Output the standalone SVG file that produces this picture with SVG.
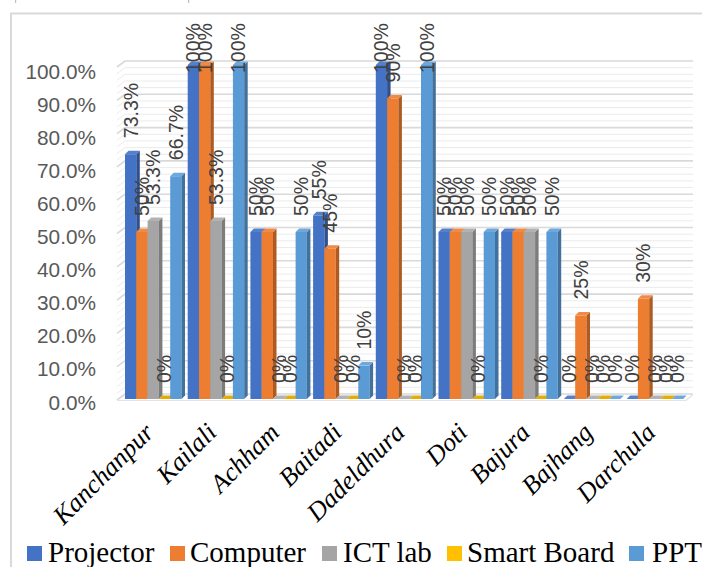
<svg xmlns="http://www.w3.org/2000/svg" width="702" height="567" viewBox="0 0 702 567">
<style>
.ax{font-family:"Liberation Sans",Arial,sans-serif;font-size:20.8px;fill:#595959;text-anchor:end}
.dl{font-family:"Liberation Sans",Arial,sans-serif;font-size:19.5px;fill:#404040}
.cat{font-family:"Liberation Serif","Times New Roman",serif;font-style:italic;font-size:26px;fill:#000;text-anchor:end}
.lg{font-family:"Liberation Serif","Times New Roman",serif;font-size:29px;fill:#000}
.pf{fill:#4472C4}.ps{fill:#2F528F}.pt{fill:#5580CC}
.cf{fill:#ED7D31}.cs{fill:#AE5A21}.ct{fill:#F08A45}
.if{fill:#A5A5A5}.is{fill:#7C7C7C}.it{fill:#B2B2B2}
.sf{fill:#FFC000}.ss{fill:#BC8C00}.st{fill:#E6AC00}
.tf{fill:#5B9BD5}.ts{fill:#41719C}.tt{fill:#6FA8DC}
</style>
<rect x="0" y="0" width="702" height="567" fill="#fff"/>
<rect x="15" y="0" width="1.2" height="3" fill="#BFBFBF"/>
<rect x="188" y="0" width="1.2" height="3" fill="#BFBFBF"/>
<rect x="11" y="13.5" width="720" height="600" fill="none" stroke="#D9D9D9" stroke-width="2"/>
<g id="walls" fill="none">
<path stroke="#EBEBEB" stroke-width="1" d="M117,393.3 l8,-6 H693 M117,386.7 l8,-6 H693 M117,380 l8,-6 H693 M117,373.4 l8,-6 H693 M117,360 l8,-6 H693 M117,353.4 l8,-6 H693 M117,346.7 l8,-6 H693 M117,340.1 l8,-6 H693 M117,326.7 l8,-6 H693 M117,320.1 l8,-6 H693 M117,313.4 l8,-6 H693 M117,306.8 l8,-6 H693 M117,293.4 l8,-6 H693 M117,286.8 l8,-6 H693 M117,280.1 l8,-6 H693 M117,273.5 l8,-6 H693 M117,260.1 l8,-6 H693 M117,253.5 l8,-6 H693 M117,246.8 l8,-6 H693 M117,240.2 l8,-6 H693 M117,226.8 l8,-6 H693 M117,220.2 l8,-6 H693 M117,213.5 l8,-6 H693 M117,206.9 l8,-6 H693 M117,193.5 l8,-6 H693 M117,186.9 l8,-6 H693 M117,180.2 l8,-6 H693 M117,173.6 l8,-6 H693 M117,160.2 l8,-6 H693 M117,153.6 l8,-6 H693 M117,146.9 l8,-6 H693 M117,140.3 l8,-6 H693 M117,126.9 l8,-6 H693 M117,120.3 l8,-6 H693 M117,113.6 l8,-6 H693 M117,107 l8,-6 H693 M117,93.6 l8,-6 H693 M117,87 l8,-6 H693 M117,80.3 l8,-6 H693 M117,73.7 l8,-6 H693"/>
<path stroke="#D9D9D9" stroke-width="1.6" d="M117,400 l8,-6 H693 M117,366.7 l8,-6 H693 M117,333.4 l8,-6 H693 M117,300.1 l8,-6 H693 M117,266.8 l8,-6 H693 M117,233.5 l8,-6 H693 M117,200.2 l8,-6 H693 M117,166.9 l8,-6 H693 M117,133.6 l8,-6 H693 M117,100.3 l8,-6 H693 M117,67 l8,-6 H693"/>
<path stroke="#E3E3E3" stroke-width="1.2" d="M117,400.5 H686 l7,-6"/>
</g>
<g id="axis">
<text class="ax" x="96" y="78.5">100.0%</text>
<text class="ax" x="96" y="111.6">90.0%</text>
<text class="ax" x="96" y="144.7">80.0%</text>
<text class="ax" x="96" y="177.8">70.0%</text>
<text class="ax" x="96" y="210.9">60.0%</text>
<text class="ax" x="96" y="244">50.0%</text>
<text class="ax" x="96" y="277.1">40.0%</text>
<text class="ax" x="96" y="310.2">30.0%</text>
<text class="ax" x="96" y="343.3">20.0%</text>
<text class="ax" x="96" y="376.4">10.0%</text>
<text class="ax" x="96" y="409.5">0.0%</text>
</g>
<g id="bars">
<g id="kanchanpur">
<g transform="translate(125,0)"><rect class="pf" x="0" y="154.2" width="11.3" height="244.8"/><polygon class="ps" points="11.3,154.2 14.8,150.7 14.8,395.5 11.3,399"/><polygon class="pt" points="0,154.2 11.3,154.2 14.8,150.7 3.5,150.7"/></g>
<g transform="translate(136.3,0)"><rect class="cf" x="0" y="232" width="11.3" height="167"/><polygon class="cs" points="11.3,232 14.8,228.5 14.8,395.5 11.3,399"/><polygon class="ct" points="0,232 11.3,232 14.8,228.5 3.5,228.5"/></g>
<g transform="translate(147.6,0)"><rect class="if" x="0" y="221" width="11.3" height="178"/><polygon class="is" points="11.3,221 14.8,217.5 14.8,395.5 11.3,399"/><polygon class="it" points="0,221 11.3,221 14.8,217.5 3.5,217.5"/></g>
<g transform="translate(158.9,0)"><polygon class="st" points="0,399 11.3,399 14.8,395.5 3.5,395.5"/></g>
<g transform="translate(170.2,0)"><rect class="tf" x="0" y="176.2" width="11.3" height="222.8"/><polygon class="ts" points="11.3,176.2 14.8,172.7 14.8,395.5 11.3,399"/><polygon class="tt" points="0,176.2 11.3,176.2 14.8,172.7 3.5,172.7"/></g>
</g>
<g id="kailali">
<g transform="translate(187.7,0)"><rect class="pf" x="0" y="65" width="11.3" height="334"/><polygon class="ps" points="11.3,65 14.8,61.5 14.8,395.5 11.3,399"/><polygon class="pt" points="0,65 11.3,65 14.8,61.5 3.5,61.5"/></g>
<g transform="translate(199,0)"><rect class="cf" x="0" y="65" width="11.3" height="334"/><polygon class="cs" points="11.3,65 14.8,61.5 14.8,395.5 11.3,399"/><polygon class="ct" points="0,65 11.3,65 14.8,61.5 3.5,61.5"/></g>
<g transform="translate(210.3,0)"><rect class="if" x="0" y="221" width="11.3" height="178"/><polygon class="is" points="11.3,221 14.8,217.5 14.8,395.5 11.3,399"/><polygon class="it" points="0,221 11.3,221 14.8,217.5 3.5,217.5"/></g>
<g transform="translate(221.6,0)"><polygon class="st" points="0,399 11.3,399 14.8,395.5 3.5,395.5"/></g>
<g transform="translate(232.9,0)"><rect class="tf" x="0" y="65" width="11.3" height="334"/><polygon class="ts" points="11.3,65 14.8,61.5 14.8,395.5 11.3,399"/><polygon class="tt" points="0,65 11.3,65 14.8,61.5 3.5,61.5"/></g>
</g>
<g id="achham">
<g transform="translate(250.4,0)"><rect class="pf" x="0" y="232" width="11.3" height="167"/><polygon class="ps" points="11.3,232 14.8,228.5 14.8,395.5 11.3,399"/><polygon class="pt" points="0,232 11.3,232 14.8,228.5 3.5,228.5"/></g>
<g transform="translate(261.7,0)"><rect class="cf" x="0" y="232" width="11.3" height="167"/><polygon class="cs" points="11.3,232 14.8,228.5 14.8,395.5 11.3,399"/><polygon class="ct" points="0,232 11.3,232 14.8,228.5 3.5,228.5"/></g>
<g transform="translate(273,0)"><polygon class="it" points="0,399 11.3,399 14.8,395.5 3.5,395.5"/></g>
<g transform="translate(284.3,0)"><polygon class="st" points="0,399 11.3,399 14.8,395.5 3.5,395.5"/></g>
<g transform="translate(295.6,0)"><rect class="tf" x="0" y="232" width="11.3" height="167"/><polygon class="ts" points="11.3,232 14.8,228.5 14.8,395.5 11.3,399"/><polygon class="tt" points="0,232 11.3,232 14.8,228.5 3.5,228.5"/></g>
</g>
<g id="baitadi">
<g transform="translate(313.1,0)"><rect class="pf" x="0" y="215.3" width="11.3" height="183.7"/><polygon class="ps" points="11.3,215.3 14.8,211.8 14.8,395.5 11.3,399"/><polygon class="pt" points="0,215.3 11.3,215.3 14.8,211.8 3.5,211.8"/></g>
<g transform="translate(324.4,0)"><rect class="cf" x="0" y="248.7" width="11.3" height="150.3"/><polygon class="cs" points="11.3,248.7 14.8,245.2 14.8,395.5 11.3,399"/><polygon class="ct" points="0,248.7 11.3,248.7 14.8,245.2 3.5,245.2"/></g>
<g transform="translate(335.7,0)"><polygon class="it" points="0,399 11.3,399 14.8,395.5 3.5,395.5"/></g>
<g transform="translate(347,0)"><polygon class="st" points="0,399 11.3,399 14.8,395.5 3.5,395.5"/></g>
<g transform="translate(358.3,0)"><rect class="tf" x="0" y="365.6" width="11.3" height="33.4"/><polygon class="ts" points="11.3,365.6 14.8,362.1 14.8,395.5 11.3,399"/><polygon class="tt" points="0,365.6 11.3,365.6 14.8,362.1 3.5,362.1"/></g>
</g>
<g id="dadeldhura">
<g transform="translate(375.8,0)"><rect class="pf" x="0" y="65" width="11.3" height="334"/><polygon class="ps" points="11.3,65 14.8,61.5 14.8,395.5 11.3,399"/><polygon class="pt" points="0,65 11.3,65 14.8,61.5 3.5,61.5"/></g>
<g transform="translate(387.1,0)"><rect class="cf" x="0" y="98.4" width="11.3" height="300.6"/><polygon class="cs" points="11.3,98.4 14.8,94.9 14.8,395.5 11.3,399"/><polygon class="ct" points="0,98.4 11.3,98.4 14.8,94.9 3.5,94.9"/></g>
<g transform="translate(398.4,0)"><polygon class="it" points="0,399 11.3,399 14.8,395.5 3.5,395.5"/></g>
<g transform="translate(409.7,0)"><polygon class="st" points="0,399 11.3,399 14.8,395.5 3.5,395.5"/></g>
<g transform="translate(421,0)"><rect class="tf" x="0" y="65" width="11.3" height="334"/><polygon class="ts" points="11.3,65 14.8,61.5 14.8,395.5 11.3,399"/><polygon class="tt" points="0,65 11.3,65 14.8,61.5 3.5,61.5"/></g>
</g>
<g id="doti">
<g transform="translate(438.5,0)"><rect class="pf" x="0" y="232" width="11.3" height="167"/><polygon class="ps" points="11.3,232 14.8,228.5 14.8,395.5 11.3,399"/><polygon class="pt" points="0,232 11.3,232 14.8,228.5 3.5,228.5"/></g>
<g transform="translate(449.8,0)"><rect class="cf" x="0" y="232" width="11.3" height="167"/><polygon class="cs" points="11.3,232 14.8,228.5 14.8,395.5 11.3,399"/><polygon class="ct" points="0,232 11.3,232 14.8,228.5 3.5,228.5"/></g>
<g transform="translate(461.1,0)"><rect class="if" x="0" y="232" width="11.3" height="167"/><polygon class="is" points="11.3,232 14.8,228.5 14.8,395.5 11.3,399"/><polygon class="it" points="0,232 11.3,232 14.8,228.5 3.5,228.5"/></g>
<g transform="translate(472.4,0)"><polygon class="st" points="0,399 11.3,399 14.8,395.5 3.5,395.5"/></g>
<g transform="translate(483.7,0)"><rect class="tf" x="0" y="232" width="11.3" height="167"/><polygon class="ts" points="11.3,232 14.8,228.5 14.8,395.5 11.3,399"/><polygon class="tt" points="0,232 11.3,232 14.8,228.5 3.5,228.5"/></g>
</g>
<g id="bajura">
<g transform="translate(501.2,0)"><rect class="pf" x="0" y="232" width="11.3" height="167"/><polygon class="ps" points="11.3,232 14.8,228.5 14.8,395.5 11.3,399"/><polygon class="pt" points="0,232 11.3,232 14.8,228.5 3.5,228.5"/></g>
<g transform="translate(512.5,0)"><rect class="cf" x="0" y="232" width="11.3" height="167"/><polygon class="cs" points="11.3,232 14.8,228.5 14.8,395.5 11.3,399"/><polygon class="ct" points="0,232 11.3,232 14.8,228.5 3.5,228.5"/></g>
<g transform="translate(523.8,0)"><rect class="if" x="0" y="232" width="11.3" height="167"/><polygon class="is" points="11.3,232 14.8,228.5 14.8,395.5 11.3,399"/><polygon class="it" points="0,232 11.3,232 14.8,228.5 3.5,228.5"/></g>
<g transform="translate(535.1,0)"><polygon class="st" points="0,399 11.3,399 14.8,395.5 3.5,395.5"/></g>
<g transform="translate(546.4,0)"><rect class="tf" x="0" y="232" width="11.3" height="167"/><polygon class="ts" points="11.3,232 14.8,228.5 14.8,395.5 11.3,399"/><polygon class="tt" points="0,232 11.3,232 14.8,228.5 3.5,228.5"/></g>
</g>
<g id="bajhang">
<g transform="translate(563.9,0)"><polygon class="pt" points="0,399 11.3,399 14.8,395.5 3.5,395.5"/></g>
<g transform="translate(575.2,0)"><rect class="cf" x="0" y="315.5" width="11.3" height="83.5"/><polygon class="cs" points="11.3,315.5 14.8,312 14.8,395.5 11.3,399"/><polygon class="ct" points="0,315.5 11.3,315.5 14.8,312 3.5,312"/></g>
<g transform="translate(586.5,0)"><polygon class="it" points="0,399 11.3,399 14.8,395.5 3.5,395.5"/></g>
<g transform="translate(597.8,0)"><polygon class="st" points="0,399 11.3,399 14.8,395.5 3.5,395.5"/></g>
<g transform="translate(609.1,0)"><polygon class="tt" points="0,399 11.3,399 14.8,395.5 3.5,395.5"/></g>
</g>
<g id="darchula">
<g transform="translate(626.6,0)"><polygon class="pt" points="0,399 11.3,399 14.8,395.5 3.5,395.5"/></g>
<g transform="translate(637.9,0)"><rect class="cf" x="0" y="298.8" width="11.3" height="100.2"/><polygon class="cs" points="11.3,298.8 14.8,295.3 14.8,395.5 11.3,399"/><polygon class="ct" points="0,298.8 11.3,298.8 14.8,295.3 3.5,295.3"/></g>
<g transform="translate(649.2,0)"><polygon class="it" points="0,399 11.3,399 14.8,395.5 3.5,395.5"/></g>
<g transform="translate(660.5,0)"><polygon class="st" points="0,399 11.3,399 14.8,395.5 3.5,395.5"/></g>
<g transform="translate(671.8,0)"><polygon class="tt" points="0,399 11.3,399 14.8,395.5 3.5,395.5"/></g>
</g>
</g>
<g id="labels">
<text class="dl" transform="translate(137.5,138.2) rotate(-90)">73.3%</text>
<text class="dl" transform="translate(148.8,216) rotate(-90)">50%</text>
<text class="dl" transform="translate(160.1,205) rotate(-90)">53.3%</text>
<text class="dl" transform="translate(171.4,383) rotate(-90)">0%</text>
<text class="dl" transform="translate(182.7,160.2) rotate(-90)">66.7%</text>
<text class="dl" transform="translate(200.2,73) rotate(-90)">100%</text>
<text class="dl" transform="translate(211.5,73) rotate(-90)">100%</text>
<text class="dl" transform="translate(222.8,205) rotate(-90)">53.3%</text>
<text class="dl" transform="translate(234.1,383) rotate(-90)">0%</text>
<text class="dl" transform="translate(245.4,73) rotate(-90)">100%</text>
<text class="dl" transform="translate(262.9,216) rotate(-90)">50%</text>
<text class="dl" transform="translate(274.2,216) rotate(-90)">50%</text>
<text class="dl" transform="translate(285.5,383) rotate(-90)">0%</text>
<text class="dl" transform="translate(296.8,383) rotate(-90)">0%</text>
<text class="dl" transform="translate(308.1,216) rotate(-90)">50%</text>
<text class="dl" transform="translate(325.6,199.3) rotate(-90)">55%</text>
<text class="dl" transform="translate(336.9,232.7) rotate(-90)">45%</text>
<text class="dl" transform="translate(348.2,383) rotate(-90)">0%</text>
<text class="dl" transform="translate(359.5,383) rotate(-90)">0%</text>
<text class="dl" transform="translate(370.8,349.6) rotate(-90)">10%</text>
<text class="dl" transform="translate(388.3,73) rotate(-90)">100%</text>
<text class="dl" transform="translate(399.6,82.4) rotate(-90)">90%</text>
<text class="dl" transform="translate(410.9,383) rotate(-90)">0%</text>
<text class="dl" transform="translate(422.2,383) rotate(-90)">0%</text>
<text class="dl" transform="translate(433.5,73) rotate(-90)">100%</text>
<text class="dl" transform="translate(451,216) rotate(-90)">50%</text>
<text class="dl" transform="translate(462.3,216) rotate(-90)">50%</text>
<text class="dl" transform="translate(473.6,216) rotate(-90)">50%</text>
<text class="dl" transform="translate(484.9,383) rotate(-90)">0%</text>
<text class="dl" transform="translate(496.2,216) rotate(-90)">50%</text>
<text class="dl" transform="translate(513.7,216) rotate(-90)">50%</text>
<text class="dl" transform="translate(525,216) rotate(-90)">50%</text>
<text class="dl" transform="translate(536.3,216) rotate(-90)">50%</text>
<text class="dl" transform="translate(547.6,383) rotate(-90)">0%</text>
<text class="dl" transform="translate(558.9,216) rotate(-90)">50%</text>
<text class="dl" transform="translate(576.4,383) rotate(-90)">0%</text>
<text class="dl" transform="translate(587.7,299.5) rotate(-90)">25%</text>
<text class="dl" transform="translate(599,383) rotate(-90)">0%</text>
<text class="dl" transform="translate(610.3,383) rotate(-90)">0%</text>
<text class="dl" transform="translate(621.6,383) rotate(-90)">0%</text>
<text class="dl" transform="translate(639.1,383) rotate(-90)">0%</text>
<text class="dl" transform="translate(650.4,282.8) rotate(-90)">30%</text>
<text class="dl" transform="translate(661.7,383) rotate(-90)">0%</text>
<text class="dl" transform="translate(673,383) rotate(-90)">0%</text>
<text class="dl" transform="translate(684.3,383) rotate(-90)">0%</text>
</g>
<g id="categories">
<text class="cat" transform="translate(155.3,434) rotate(-45)">Kanchanpur</text>
<text class="cat" transform="translate(218,434) rotate(-45)">Kailali</text>
<text class="cat" transform="translate(280.7,434) rotate(-45)">Achham</text>
<text class="cat" transform="translate(343.4,434) rotate(-45)">Baitadi</text>
<text class="cat" transform="translate(406.1,434) rotate(-45)">Dadeldhura</text>
<text class="cat" transform="translate(468.8,434) rotate(-45)">Doti</text>
<text class="cat" transform="translate(531.5,434) rotate(-45)">Bajura</text>
<text class="cat" transform="translate(594.2,434) rotate(-45)">Bajhang</text>
<text class="cat" transform="translate(656.9,434) rotate(-45)">Darchula</text>
</g>
<g id="legend">
<rect x="27" y="546" width="15" height="15" fill="#4472C4"/><text class="lg" x="48" y="561.5">Projector</text>
<rect x="170" y="546" width="15" height="15" fill="#ED7D31"/><text class="lg" x="190" y="561.5">Computer</text>
<rect x="322" y="546" width="15" height="15" fill="#A5A5A5"/><text class="lg" x="343" y="561.5">ICT lab</text>
<rect x="447" y="546" width="15" height="15" fill="#FFC000"/><text class="lg" x="467" y="561.5">Smart Board</text>
<rect x="629" y="546" width="15" height="15" fill="#5B9BD5"/><text class="lg" x="652" y="561.5">PPT</text>
</g>
</svg>
